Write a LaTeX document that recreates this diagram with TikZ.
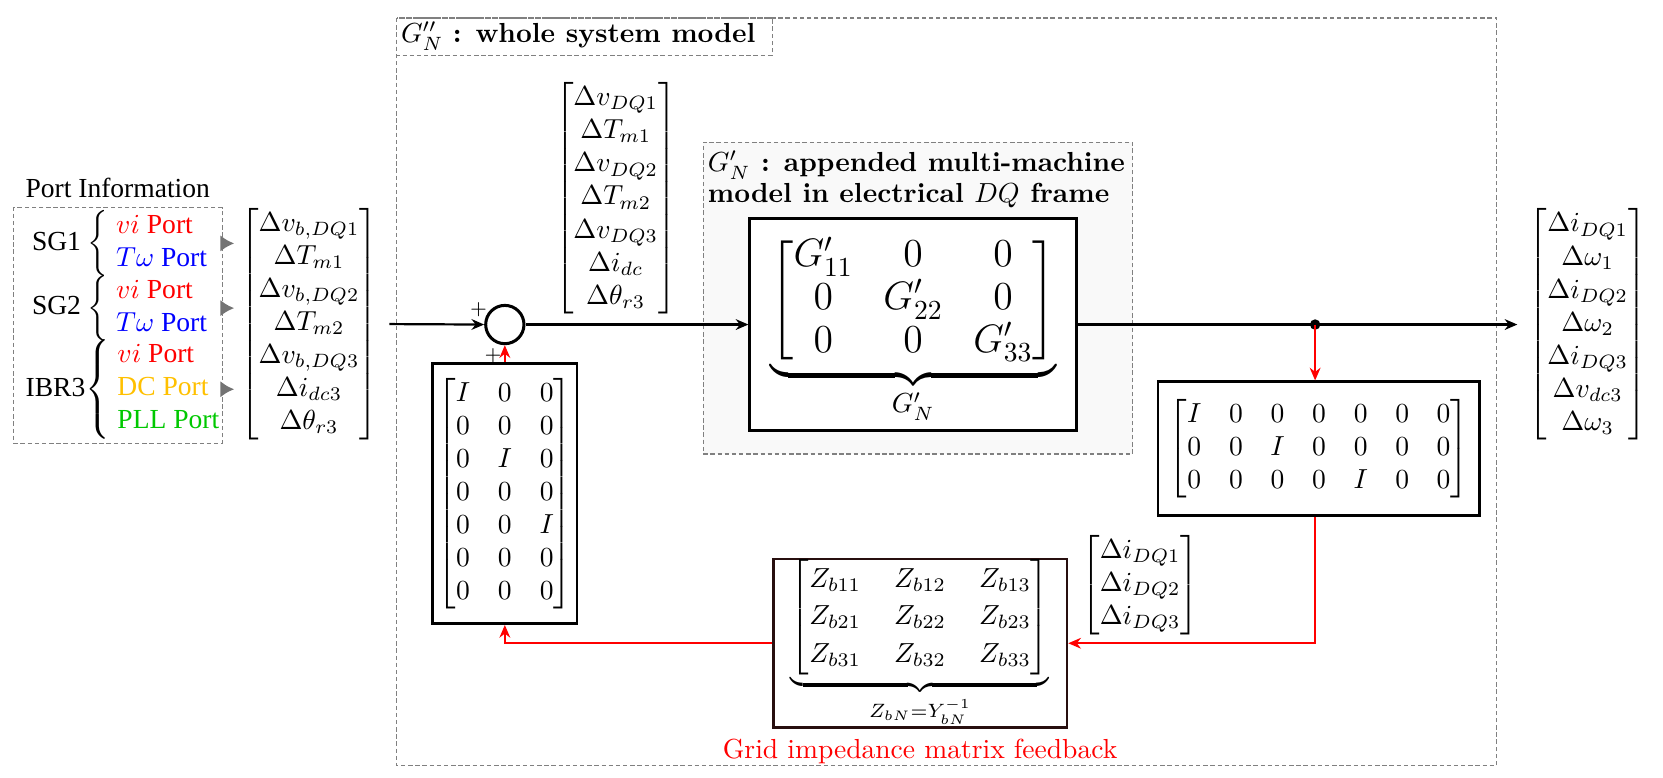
\documentclass[tikz,border=0pt]{standalone}
\usepackage{amsmath}
\usepackage{fontspec}
\newfontfamily\timesfont{Liberation Serif}
\usepackage{tikz}
\usetikzlibrary{arrows.meta,positioning}
\definecolor{dcport}{RGB}{255,192,0}
\definecolor{pllport}{RGB}{0,200,0}
\definecolor{zframe}{RGB}{40,15,15}

\begin{document}
\begin{tikzpicture}[x=0.385pt,y=-0.385pt,
  sig/.style={thick,-{Stealth[length=4.6pt,width=3.9pt]}},
  fb/.style={sig,red},
  blk/.style={draw,line width=1pt,inner sep=0pt},
  frame/.style={draw=gray,dash pattern=on 1.6pt off 1pt,thin},
  vec/.style={inner sep=0pt},
  portarrow/.style={line width=1.8pt,black!55,-{Latex[length=5pt,width=6pt]}}]
\useasboundingbox (0,0) rectangle (1568,733);

% whole system model
\draw[frame] (374,17) rectangle (1411,722);
\draw[frame] (374,17) rectangle (728,52);
\node[anchor=west,inner sep=1pt] (systitle) at (375,34) {$G''_N$ \textbf{: whole system model}};

% port information
\node[frame,minimum width=75.8pt,minimum height=85.5pt] (portbox) at (111,307) {};
\node[above=0pt of portbox,font=\timesfont] (porttitle) {Port Information};
\node[anchor=west,font=\timesfont] (sgA) at (21,229.5) {SG1 $\left\{\begin{tabular}{@{\;}l@{}}\textcolor{red}{$vi$ Port}\\ \textcolor{blue}{$T\omega$ Port}\end{tabular}\right.$};
\node[anchor=west,font=\timesfont] (sgB) at (21,290.5) {SG2 $\left\{\begin{tabular}{@{\;}l@{}}\textcolor{red}{$vi$ Port}\\ \textcolor{blue}{$T\omega$ Port}\end{tabular}\right.$};
\node[anchor=west,font=\timesfont] (ibr) at (15,367) {IBR3$\left\{\begin{tabular}{@{\;}l@{}}\textcolor{red}{$vi$ Port}\\ \textcolor{dcport}{DC Port}\\ \textcolor{pllport}{PLL Port}\end{tabular}\right.$};

% signal vectors
\node[vec] (vin) at (291.4,305.5) {$\begin{bmatrix}\Delta v_{b,DQ1}\\ \Delta T_{m1}\\ \Delta v_{b,DQ2}\\ \Delta T_{m2}\\ \Delta v_{b,DQ3}\\ \Delta i_{dc3}\\ \Delta\theta_{r3}\end{bmatrix}$};
\node[vec] (vmid) at (580.6,187) {$\begin{bmatrix}\Delta v_{DQ1}\\ \Delta T_{m1}\\ \Delta v_{DQ2}\\ \Delta T_{m2}\\ \Delta v_{DQ3}\\ \Delta i_{dc}\\ \Delta\theta_{r3}\end{bmatrix}$};
\node[vec] (vout) at (1497,306) {$\begin{bmatrix}\Delta i_{DQ1}\\ \Delta\omega_1\\ \Delta i_{DQ2}\\ \Delta\omega_2\\ \Delta i_{DQ3}\\ \Delta v_{dc3}\\ \Delta\omega_3\end{bmatrix}$};
\node[vec] (vfb) at (1075,551.5) {$\begin{bmatrix}\Delta i_{DQ1}\\ \Delta i_{DQ2}\\ \Delta i_{DQ3}\end{bmatrix}$};

\draw[portarrow,shorten >=2pt] (sgA -| portbox.east) -- (sgA -| vin.west);
\draw[portarrow,shorten >=2pt] (sgB -| portbox.east) -- (sgB -| vin.west);
\draw[portarrow,shorten >=2pt] (ibr -| portbox.east) -- (ibr -| vin.west);

% summing junction
\node[draw,line width=1.1pt,circle,minimum size=13.9pt,inner sep=0pt] (sum) at (476,306) {};
\node[left,inner sep=1pt] (plusA) at (sum.north west) {$\scriptstyle+$};
\node[below left,inner sep=1pt] (plusB) at (sum.south) {$\scriptstyle+$};

% appended multi-machine model
\node[frame,fill=gray!5,minimum width=155.9pt,minimum height=113.2pt] (gshade) at (865.5,281) {};
\node[anchor=north west,align=left,font=\bfseries,inner sep=0pt] (gtitle) at (667,142) {$G'_N$ : appended multi-machine\\[-1pt]model in electrical $DQ$ frame};
\node[blk,fill=white,minimum width=118.6pt,minimum height=77pt] (gin) at (861,306) {};
\node[font=\Large] (gmat) at (861,312) {\renewcommand{\arraystretch}{0.86}\setlength{\arraycolsep}{5.5pt}$\displaystyle\underbrace{\begin{bmatrix}G'_{11}&0&0\\ 0&G'_{22}&0\\ 0&0&G'_{33}\end{bmatrix}}_{G'_N}$};

% selection and feedback blocks
\node[blk,minimum width=116.7pt,minimum height=48.5pt] (sel) at (1243.5,423) {$\begin{bmatrix}I&0&0&0&0&0&0\\ 0&0&I&0&0&0&0\\ 0&0&0&0&I&0&0\end{bmatrix}$};
\node[blk,draw=zframe,minimum width=106.6pt,minimum height=61.2pt] (zbox) at (867.5,606.5) {\renewcommand{\arraystretch}{1.13}\setlength{\arraycolsep}{6pt}$\displaystyle\underbrace{\begin{bmatrix}Z_{b11}&Z_{b12}&Z_{b13}\\ Z_{b21}&Z_{b22}&Z_{b23}\\ Z_{b31}&Z_{b32}&Z_{b33}\end{bmatrix}}_{Z_{bN}=Y_{bN}^{-1}}$};
\node[red,below=0pt of zbox] (fbtext) {Grid impedance matrix feedback};
\node[blk,minimum width=52.4pt,minimum height=94.3pt] (lmat) at (476,465.5) {$\begin{bmatrix}I&0&0\\ 0&0&0\\ 0&I&0\\ 0&0&0\\ 0&0&I\\ 0&0&0\\ 0&0&0\end{bmatrix}$};

% connections
\coordinate (tap) at (1240,306);
\draw[sig,shorten <=4pt] (vin.east) -- (sum.west);
\draw[sig] (sum.east) -- (gin.west);
\draw[sig,shorten >=4pt] (gin.east) -- (vout.west);
\fill (tap) circle (1.9pt);
\draw[fb] (tap) -- (tap |- sel.north);
\draw[fb] (tap |- sel.south) |- (zbox.east);
\draw[fb] (zbox.west) -| (lmat.south);
\draw[fb] (lmat.north) -- (sum.south);
\end{tikzpicture}
\end{document}
